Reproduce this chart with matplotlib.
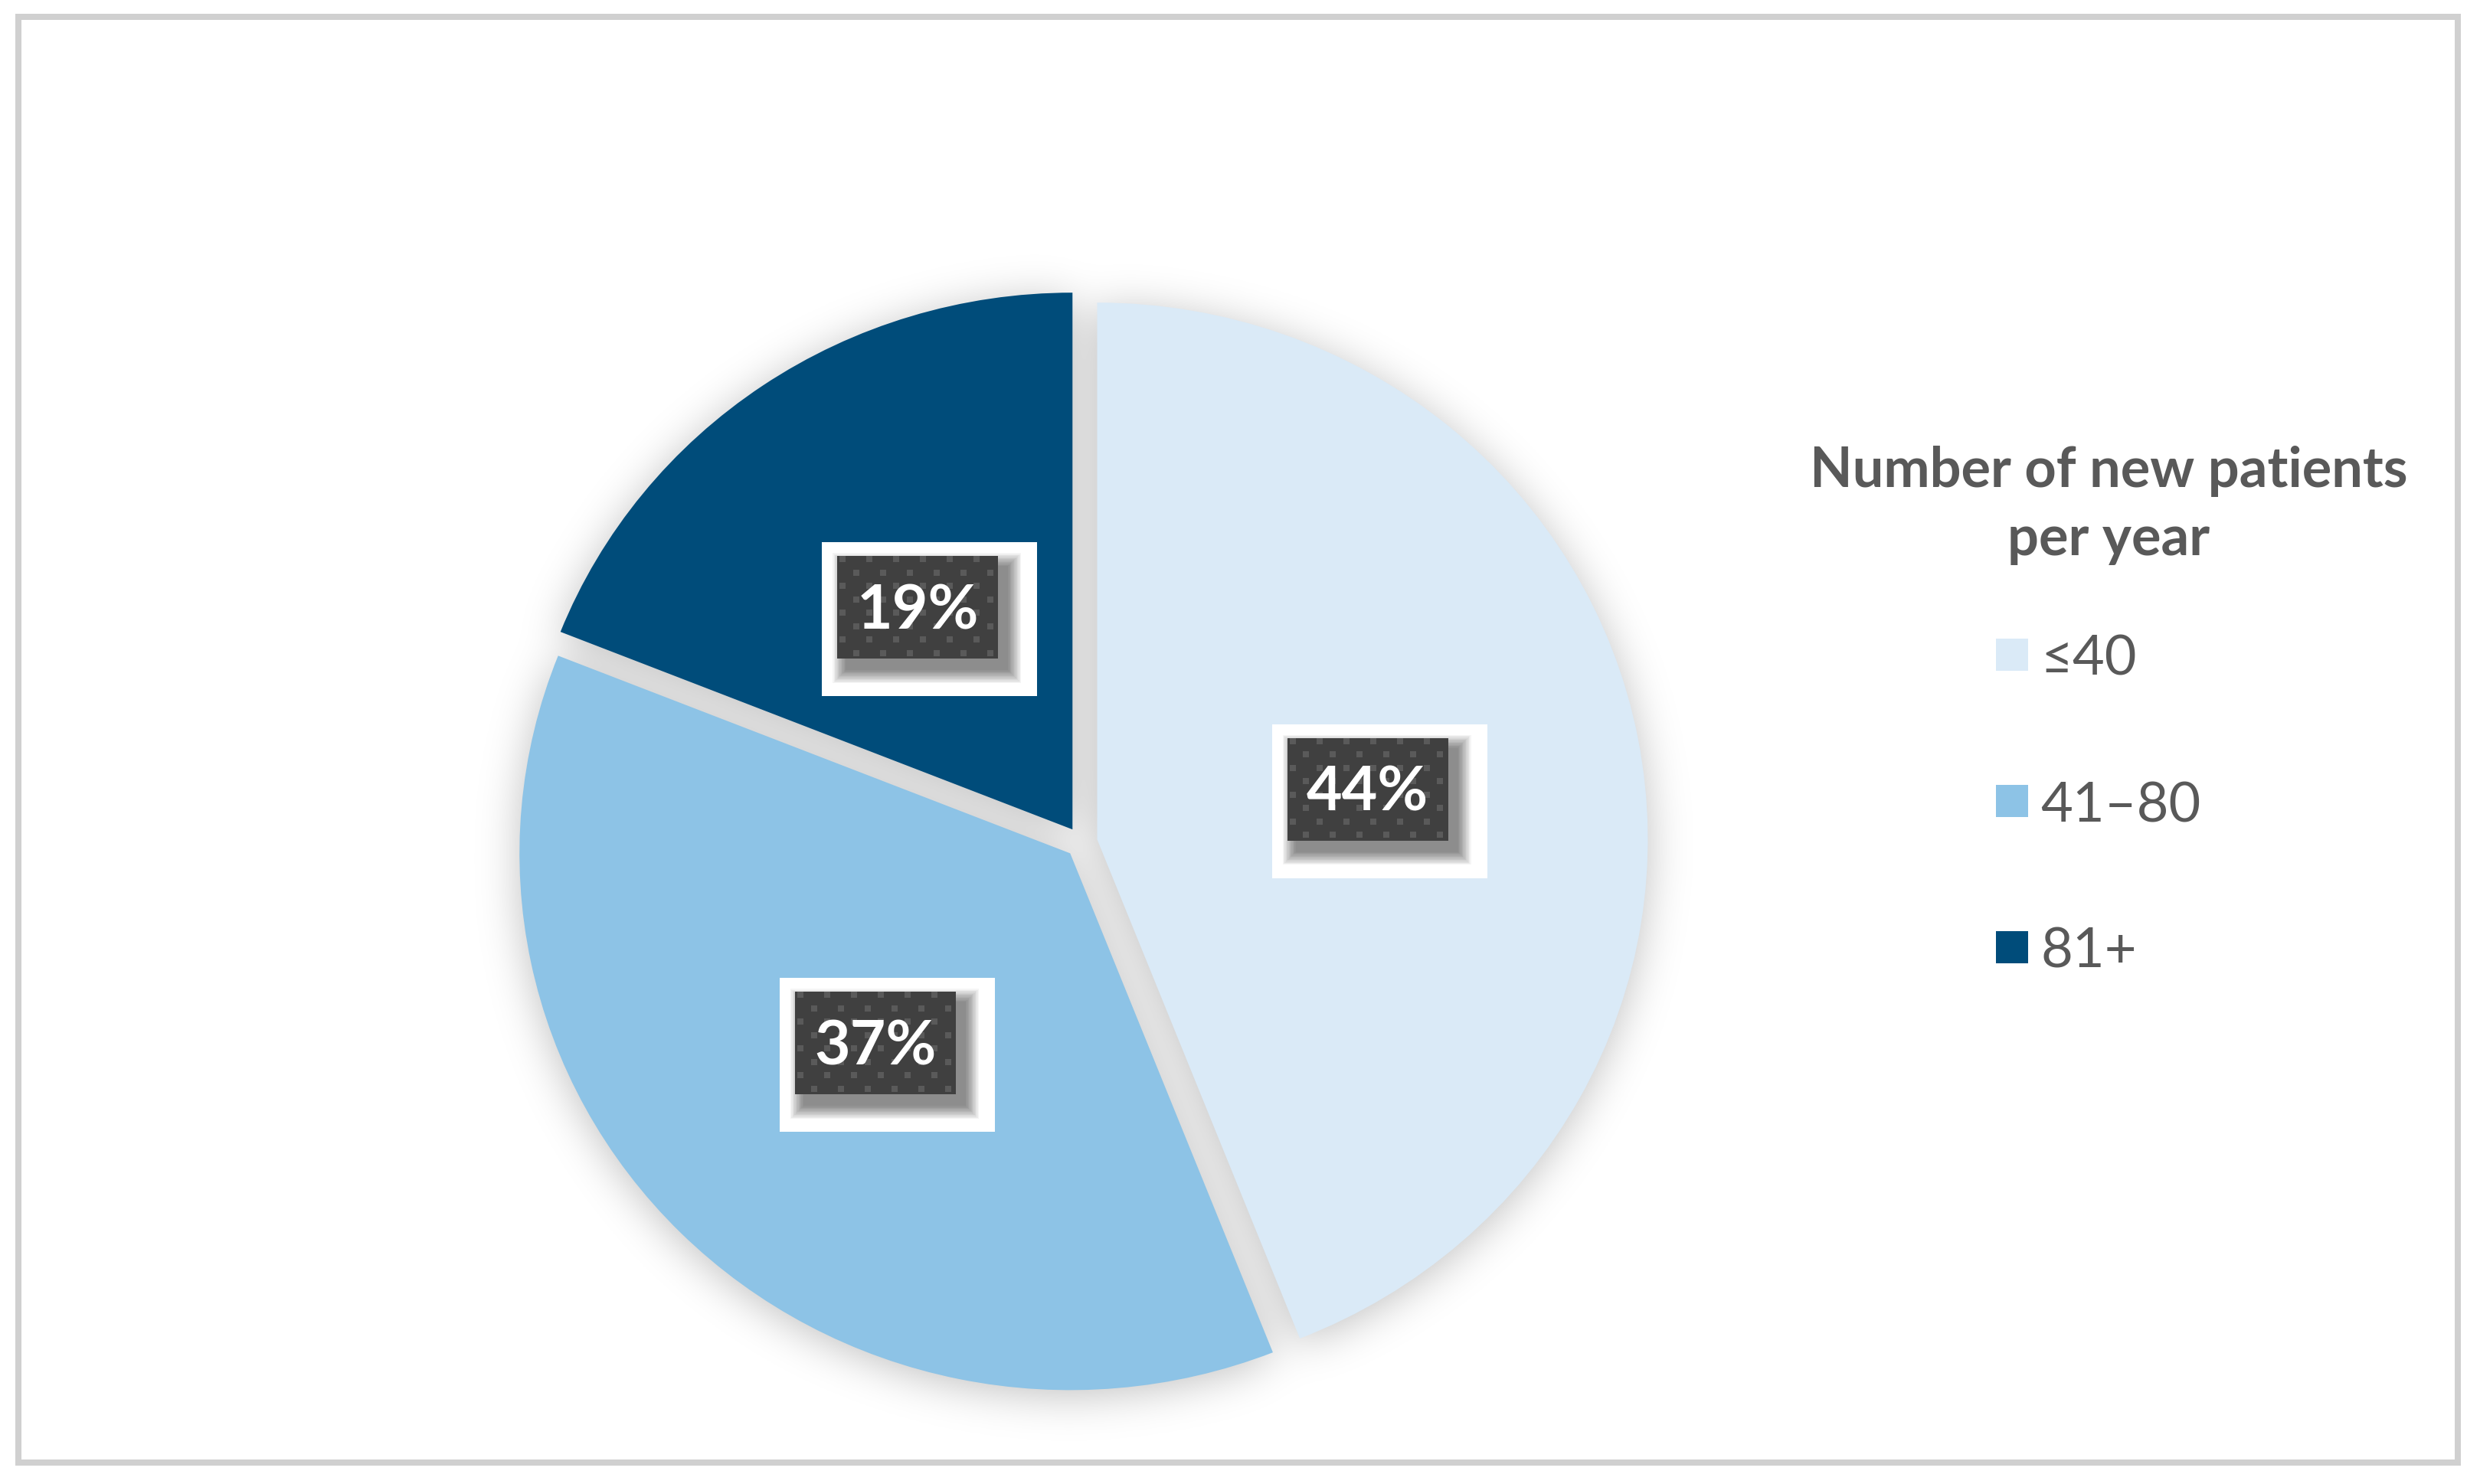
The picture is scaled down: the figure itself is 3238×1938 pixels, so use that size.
import numpy as np
import matplotlib
matplotlib.use('Agg')
import matplotlib.pyplot as plt
from matplotlib.patches import Rectangle

# data
categories = ['≤40', '41–80', '81+']
shares = [44, 37, 19]
colors = ['#DAEAF7', '#8DC3E6', '#004C7A']
legend_title = ['Number of new patients', 'per year']

plt.rcParams['font.family'] = ['Lato', 'DejaVu Sans']

W, H = 3238, 1938
DPI = 200
fig = plt.figure(figsize=(W / DPI, H / DPI), dpi=DPI)
fig.patch.set_facecolor('white')

# pie centre / radii in pixels (image coords, y down); pie is a bit wider than tall
cx, cy = 1412, 1100
rx, ry = 719, 701

sh = fig.add_axes([0, 0, 1, 1], zorder=0)
ax = fig.add_axes([0, 0, 1, 1], zorder=1)
ov = fig.add_axes([0, 0, 1, 1], zorder=3)

wedges, _ = ax.pie(shares, colors=colors, startangle=90, counterclock=False,
                   explode=[0.029] * len(shares), wedgeprops=dict(linewidth=0))
ax.set_aspect('auto')
ax.set_xlim(-cx / rx, (W - cx) / rx)
ax.set_ylim(-(H - cy) / ry, cy / ry)
ax.axis('off')


def to_img(xy):
    x, y = ax.transData.transform(xy)
    return x, H - y


# soft drop shadow under the pie (blurred mask of the wedges)
step = 4
gx = np.arange(0, W, step) + step / 2
gy = np.arange(0, H, step) + step / 2
XX, YY = np.meshgrid(gx, gy)
off = 8
pts = np.column_stack([XX.ravel(), (H - (YY - off)).ravel()])
mask = np.zeros(XX.size)
for w in wedges:
    p = w.get_transform().transform_path(w.get_path())
    mask = np.maximum(mask, p.contains_points(pts))
mask = mask.reshape(XX.shape)
sigma = 28 / step
k = np.arange(-int(4 * sigma), int(4 * sigma) + 1)
kern = np.exp(-k ** 2 / (2 * sigma ** 2))
kern /= kern.sum()
blur = np.apply_along_axis(lambda r: np.convolve(r, kern, mode='same'), 1, mask)
blur = np.apply_along_axis(lambda c: np.convolve(c, kern, mode='same'), 0, blur)
rgba = np.zeros(blur.shape + (4,))
rgba[..., 3] = 0.25 * blur
sh.imshow(rgba, extent=(0, W, H, 0), aspect='auto', interpolation='bilinear')
sh.set_xlim(0, W)
sh.set_ylim(H, 0)
sh.axis('off')

ov.set_xlim(0, W)
ov.set_ylim(H, 0)
ov.axis('off')

# data labels
bw, bh = 210, 134
for w, val in zip(wedges, shares):
    mid = np.deg2rad((w.theta1 + w.theta2) / 2)
    c = w.center
    px, py = to_img((c[0] + 0.5 * np.cos(mid), c[1] + 0.5 * np.sin(mid)))
    x0, y0 = px - bw / 2, py - bh / 2
    ov.add_patch(Rectangle((x0 - 20, y0 - 18), bw + 71, bh + 67, fc='white', ec='none'))
    # blurred shadow of the dark box
    for i in range(14):
        g = 2 + i * 2.6
        ov.add_patch(Rectangle((x0 + 12 - g / 2, y0 + 14 - g / 2), bw + g, bh + g,
                               fc='black', ec='none', alpha=0.04))
    box = Rectangle((x0, y0), bw, bh, fc='#404040', ec='none')
    ov.add_patch(box)
    for r in range(9):
        yy = y0 + r * 17.5
        xs = np.arange(x0 + 3 + (r % 2) * 17.5, x0 + bw, 35)
        for xx in xs:
            sq = Rectangle((xx, yy), 8, 8, fc='#5A5A5A', ec='none')
            ov.add_patch(sq)
            sq.set_clip_path(box)
    ov.text(px, py + 28, f'{val}%', color='white', fontsize=29, fontweight='bold',
            ha='center', va='baseline')

# legend
tc = '#595959'
ov.text(2753, 636, legend_title[0], color=tc, fontsize=26, fontweight='bold',
        ha='center', va='baseline')
ov.text(2753, 725, legend_title[1], color=tc, fontsize=26, fontweight='bold',
        ha='center', va='baseline')
for i, (lab, col) in enumerate(zip(categories, colors)):
    base = 882 + i * 191
    ov.add_patch(Rectangle((2606, base - 48), 42, 42, fc=col, ec='none'))
    ov.text(2664, base, lab, color=tc, fontsize=26, ha='left', va='baseline')

# outer frame
ov.add_patch(Rectangle((24, 22), 3185, 1888, fill=False, ec='#D0D0D0', lw=2.88))

fig.savefig('out.png', dpi=DPI)
